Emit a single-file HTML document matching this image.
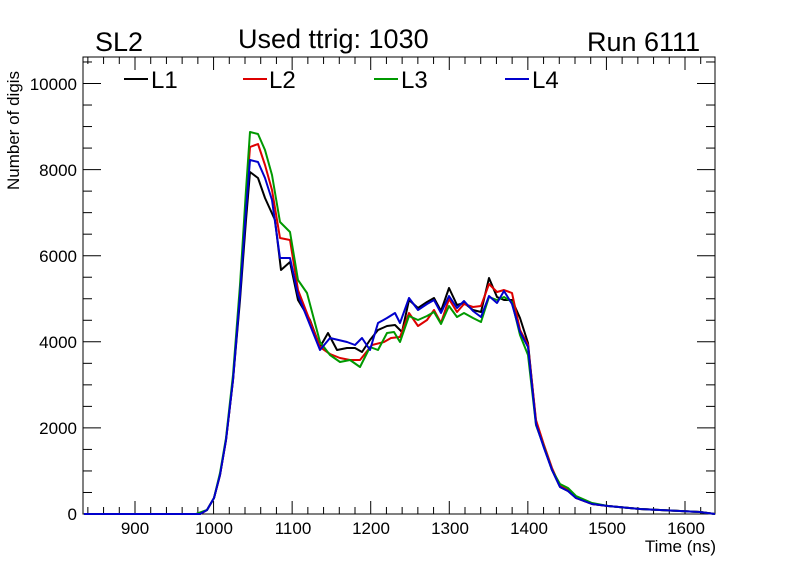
<!DOCTYPE html><html><head><style>body{margin:0;background:#fff}svg text{font-family:"Liberation Sans",sans-serif}</style></head><body>
<svg width="796" height="572" viewBox="0 0 796 572" xmlns="http://www.w3.org/2000/svg">
<rect width="796" height="572" fill="#fff"/>
<rect x="83" y="57" width="632" height="457" fill="none" stroke="#000" stroke-width="1"/>
<g stroke="#000" stroke-width="1" id="ticks"></g>
<g font-size="17" fill="#000" text-anchor="end">
<text x="77" y="520">0</text><text x="77" y="434">2000</text><text x="77" y="348">4000</text><text x="77" y="262">6000</text><text x="77" y="176">8000</text><text x="77" y="90">10000</text>
</g>
<g font-size="17" fill="#000" text-anchor="middle">
<text x="135" y="534">900</text><text x="214" y="534">1000</text><text x="293" y="534">1100</text><text x="371" y="534">1200</text><text x="450" y="534">1300</text><text x="529" y="534">1400</text><text x="607" y="534">1500</text><text x="686" y="534">1600</text>
</g>
<text x="716" y="552" font-size="17" text-anchor="end">Time (ns)</text>
<text transform="translate(19,190) rotate(-90)" font-size="17" text-anchor="start">Number of digis</text>
<text x="95" y="51" font-size="27">SL2</text>
<text x="238" y="48" font-size="27">Used ttrig: 1030</text>
<text x="587" y="51" font-size="27">Run 6111</text>
<g font-size="24">
<line x1="124" y1="79" x2="148" y2="79" stroke="#000" stroke-width="2"/><text x="151" y="88">L1</text>
<line x1="243" y1="79" x2="267" y2="79" stroke="#d00" stroke-width="2"/><text x="269" y="88">L2</text>
<line x1="374" y1="79" x2="398" y2="79" stroke="#090" stroke-width="2"/><text x="401" y="88">L3</text>
<line x1="505" y1="79" x2="529" y2="79" stroke="#00c" stroke-width="2"/><text x="532" y="88">L4</text>
</g>
<g fill="none" stroke-width="2" stroke-linejoin="round">
<polyline stroke="#000" points="84,514 200,514 207,510 214,498 220,475 226,440 233,380 240,300 246,220 250,172 258,178 265,198 275,220 281,270 290,262 298,300 310,320 320,347 328,333 337,350 347,348 355,348 362,352 370,340 378,330 387,326 395,325 402,332 409,300 418,308 427,302 434,298 441,311 449,288 457,305 464,303 473,310 481,312 489,278 497,297 504,300 512,300 520,318 528,343 536,422 544,447 552,470 560,487 568,491 576,498 592,504 608,506 640,509 680,511 700,512 715,514"/>
<polyline stroke="#d00" points="84,514 200,514 207,510 214,498 220,475 226,440 233,380 240,290 246,200 250,147 258,144 265,165 272,190 280,238 290,240 298,290 320,347 330,354 340,358 350,360 360,360 372,345 384,342 391,338 400,337 409,313 418,326 427,320 434,310 441,323 449,299 457,312 464,304 473,307 481,306 489,284 497,292 504,290 512,293 520,330 528,345 536,420 544,445 552,468 560,486 568,490 576,498 592,504 608,506 640,509 680,511 700,512 715,514"/>
<polyline stroke="#090" points="84,514 196,514 207,510 214,498 220,473 226,438 233,375 240,285 246,190 250,132 258,134 265,150 272,175 280,222 290,232 298,280 307,293 320,342 330,355 340,362 350,360 360,367 370,347 378,350 387,333 394,332 400,342 409,316 418,320 427,316 434,312 441,324 449,306 457,317 464,313 473,318 481,322 489,297 497,300 504,297 512,302 520,335 528,355 536,425 544,447 552,470 560,484 568,488 576,496 592,503 608,506 640,509 680,511 700,512 715,514"/>
<polyline stroke="#00c" points="84,514 200,514 207,510 214,498 220,475 226,440 233,380 240,295 246,210 250,160 258,162 265,178 272,200 280,258 290,258 298,295 320,350 330,338 347,342 355,345 362,338 370,350 378,323 387,318 395,313 400,323 409,298 418,310 427,304 434,300 441,313 449,296 457,308 464,301 473,311 481,317 489,296 497,303 504,291 512,304 520,332 528,347 536,424 544,448 552,470 560,487 568,491 576,498 592,504 608,506 640,509 680,511 700,512 715,514"/>
</g>
</svg>
<script>
var g=document.getElementById('ticks'),s='';
for(var v=0;v<=10500;v+=500){var y=514-v*0.04305;var L=(v%2000==0)?18:9;s+='<line x1="83" y1="'+y+'" x2="'+(83+L)+'" y2="'+y+'"/><line x1="715" y1="'+y+'" x2="'+(715-L)+'" y2="'+y+'"/>';}
for(var t=840;t<=1636;t+=20){var x=135+(t-900)*0.7857;if(x<83||x>715)continue;var L=(t%100==0)?13:7;s+='<line x1="'+x+'" y1="514" x2="'+x+'" y2="'+(514-L)+'"/><line x1="'+x+'" y1="57" x2="'+x+'" y2="'+(57+L)+'"/>';}
g.innerHTML=s;
</script>
</body></html>
